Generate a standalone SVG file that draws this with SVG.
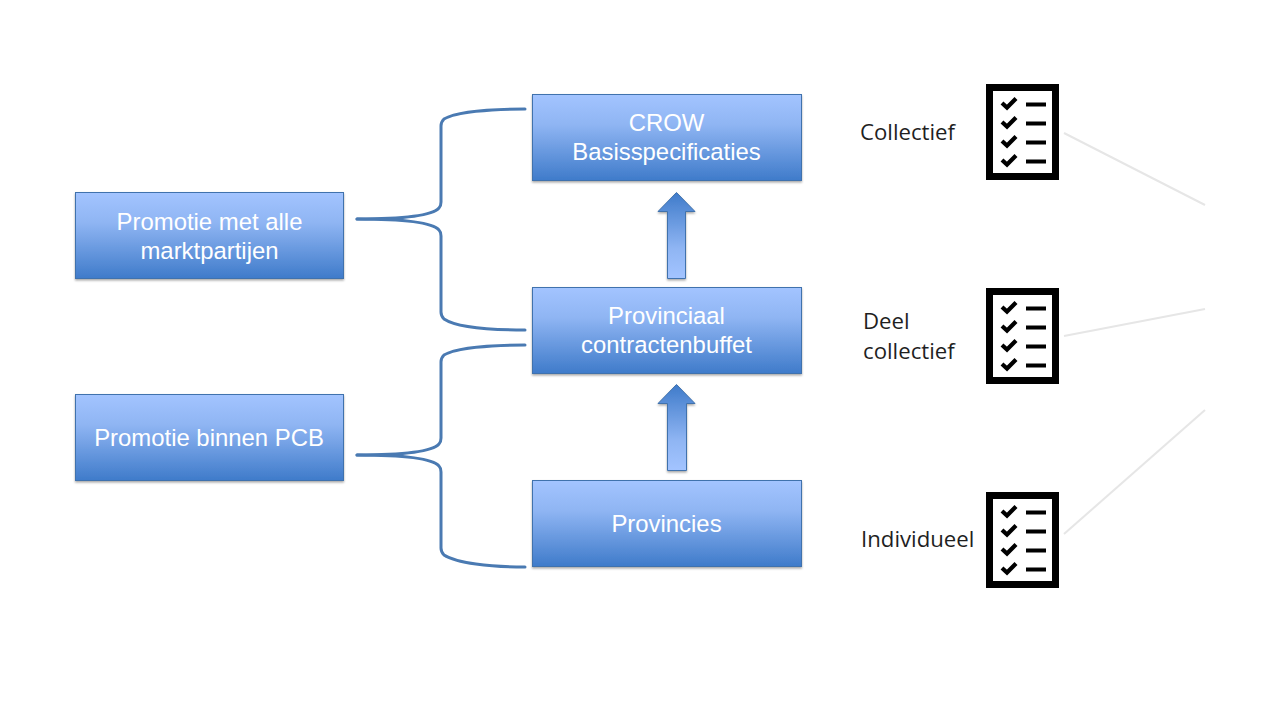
<svg xmlns="http://www.w3.org/2000/svg" width="1280" height="720" viewBox="0 0 1280 720">
<style>
.box{fill:url(#g);stroke:#4172ad;stroke-width:1;filter:url(#s)}
.arrow{fill:url(#ga);stroke:#4172ad;stroke-width:1;filter:url(#s)}
.t{font-family:"Liberation Sans",Arial,sans-serif;font-size:23.9px;fill:#fff;text-anchor:middle}
.l{font-family:"Open Sans","Noto Sans",sans-serif;font-size:22.200px;fill:#1f1f1f}
.brace{fill:none;stroke:#4a7ab2;stroke-width:3;stroke-linecap:round}
.thin{fill:none;stroke:#e6e6e6;stroke-width:2}
.chk{fill:none;stroke:#000;stroke-width:4.2}
.dash{stroke:#000;stroke-width:4;fill:none}
</style>
<defs>
<linearGradient id="g" x1="0" y1="0" x2="0" y2="1"><stop offset="0" stop-color="#a3c4ff"/><stop offset=".35" stop-color="#8fb5f3"/><stop offset="1" stop-color="#3f7bca"/></linearGradient>
<linearGradient id="ga" x1="0" y1="1" x2="0" y2="0"><stop offset="0" stop-color="#a3c4ff"/><stop offset=".35" stop-color="#8fb5f3"/><stop offset="1" stop-color="#3f7bca"/></linearGradient>
<filter id="s" x="-10%" y="-10%" width="120%" height="125%"><feDropShadow dx="0" dy="1.5" stdDeviation="1.3" flood-color="#000" flood-opacity=".35"/></filter>
<g id="list">
<rect x="989.500" y="3.500" width="66" height="89" fill="#fff" stroke="#000" stroke-width="7"/>
<g class="chk"><path d="M1002 19l5 4.500 9-9"/><path d="M1002 38l5 4.500 9-9"/><path d="M1002 57l5 4.500 9-9"/><path d="M1002 76l5 4.500 9-9"/></g>
<g class="dash"><path d="M1026 20.500h20M1026 39.500h20M1026 58.500h20M1026 77.500h20"/></g>
</g>
</defs>
<rect width="1280" height="720" fill="#fff"/>
<g id="connectors">
<path class="brace" d="M357 219C400 219 432 216 439 208Q441 206 441 202V126Q441 122 444 119C456 112 490 109 525 109"/>
<path class="brace" d="M357 219C400 219 432 222 439 230Q441 232 441 236V312Q441 316 444 319C456 327 490 330 525 330"/>
<path class="brace" d="M357 455C400 455 432 452 439 444Q441 442 441 438V362Q441 358 444 355C456 348 490 345 525 345"/>
<path class="brace" d="M357 455C400 455 432 458 439 466Q441 468 441 472V548Q441 552 444 555C456 563 490 567 525 567"/>
<path class="thin" d="M1064 133L1205 205M1064 336L1205 309M1064 534L1205 410"/>
</g>
<g id="arrow-up-1"><path class="arrow" d="M676.500 192.500L695 211.500H685.500V278.500H667.500V211.500H658Z"/></g>
<g id="arrow-up-2"><path class="arrow" d="M676.500 384.500L695 403.500H686.500V470.500H667.500V403.500H658Z"/></g>
<g id="node-crow"><rect class="box" x="532.500" y="94.500" width="269" height="86"/><text class="t" x="666.500" y="131">CROW</text><text class="t" x="666.500" y="160">Basisspecificaties</text></g>
<g id="node-pcb"><rect class="box" x="532.500" y="287.500" width="269" height="86"/><text class="t" x="666.500" y="324">Provinciaal</text><text class="t" x="666.500" y="353">contractenbuffet</text></g>
<g id="node-provincies"><rect class="box" x="532.500" y="480.500" width="269" height="86"/><text class="t" x="666.500" y="532">Provincies</text></g>
<g id="node-promotie-alle"><rect class="box" x="75.500" y="192.500" width="268" height="86"/><text class="t" x="209.500" y="230">Promotie met alle</text><text class="t" x="209.500" y="259">marktpartijen</text></g>
<g id="node-promotie-pcb"><rect class="box" x="75.500" y="394.500" width="268" height="86"/><text class="t" x="209" y="446">Promotie binnen PCB</text></g>
<g id="node-collectief"><text class="l" x="860" y="140">Collectief</text><use href="#list" y="84"/></g>
<g id="node-deel"><text class="l" x="863" y="329">Deel</text><text class="l" x="863" y="359">collectief</text><use href="#list" y="288"/></g>
<g id="node-individueel"><text class="l" x="861" y="547">Individueel</text><use href="#list" y="492"/></g>
</svg>
